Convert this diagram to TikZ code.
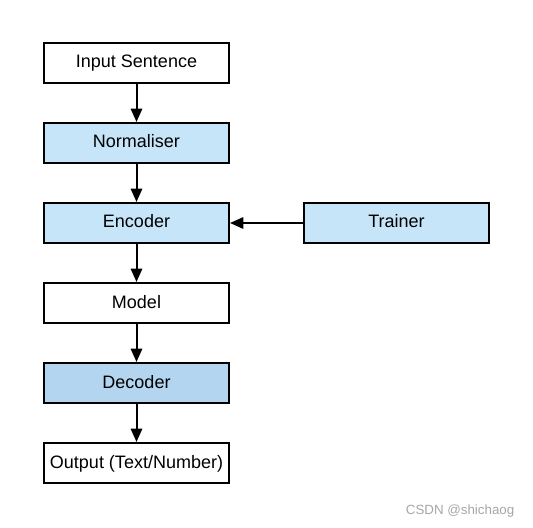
\documentclass[tikz,border=0pt]{standalone}
\usepackage{fontspec}
\setmainfont{Liberation Sans}
\usetikzlibrary{arrows.meta}
\definecolor{lb}{HTML}{C6E5F8}
\definecolor{db}{HTML}{B4D5F0}
\begin{document}
\begin{tikzpicture}[x=0.75pt,y=-0.75pt,
  blk/.style={draw=black,line width=1.5pt,minimum width=138.75pt,minimum height=30pt,inner sep=0pt,text height=10pt,text depth=2.5pt,font=\fontsize{13.5}{15}\selectfont,anchor=center},
  arr/.style={line width=1.5pt,-{Triangle[width=8.5pt,length=10pt]}}]
\useasboundingbox (0,0) rectangle (533,528);
\node[blk,fill=white] (in) at (136.5,63) {Input Sentence};
\node[blk,fill=lb] (norm) at (136.5,143) {Normaliser};
\node[blk,fill=lb] (enc) at (136.5,223) {Encoder};
\node[blk,fill=white] (mod) at (136.5,303) {Model};
\node[blk,fill=db] (dec) at (136.5,383) {Decoder};
\node[blk,fill=white] (out) at (136.5,463) {Output (Text/Number)};
\node[blk,fill=lb] (tr) at (396.5,223) {Trainer};
\draw[arr] (in) -- (norm);
\draw[arr] (norm) -- (enc);
\draw[arr] (enc) -- (mod);
\draw[arr] (mod) -- (dec);
\draw[arr] (dec) -- (out);
\draw[arr] (tr) -- (enc);
\node[text=gray!70,font=\fontsize{10}{12}\selectfont,anchor=east] (wm) at (519,511) {CSDN @shichaog};
\end{tikzpicture}
\end{document}
